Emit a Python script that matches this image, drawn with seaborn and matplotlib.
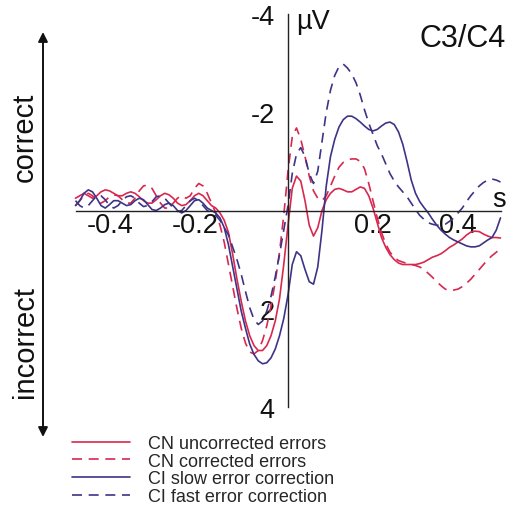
import numpy as np
import pandas as pd
import seaborn as sns
import matplotlib.pyplot as plt
from matplotlib.transforms import ScaledTranslation

# time axis (s), sampled every 10 ms
time = np.round(np.arange(-0.50, 0.501, 0.01), 2)

# amplitudes in microvolt (negative = up)
cn_uncorrected = [
    -0.25, -0.30, -0.35, -0.30, -0.25, -0.30, -0.38, -0.42, -0.40, -0.35,
    -0.30, -0.30, -0.35, -0.38, -0.35, -0.28, -0.20, -0.15, -0.15, -0.22,
    -0.30, -0.35, -0.32, -0.25, -0.15, -0.10, -0.12, -0.20, -0.30, -0.35,
    -0.30, -0.20, -0.10, -0.05, 0.05, 0.20, 0.45, 0.90, 1.40, 1.85,
    2.25, 2.55, 2.75, 2.85, 2.85, 2.75, 2.55, 2.25, 1.80, 1.10,
    0.30, -0.45, -0.70, -0.60, -0.20, 0.30, 0.52, 0.35, 0.00, -0.22,
    -0.35, -0.43, -0.45, -0.42, -0.38, -0.38, -0.43, -0.48, -0.45, -0.30,
    -0.05, 0.25, 0.55, 0.75, 0.90, 1.00, 1.07, 1.10, 1.10, 1.10,
    1.10, 1.08, 1.05, 1.00, 0.95, 0.92, 0.88, 0.82, 0.75, 0.70,
    0.64, 0.58, 0.50, 0.44, 0.42, 0.43, 0.48, 0.52, 0.55, 0.55, 0.56]
cn_corrected = [
    -0.10, -0.20, -0.30, -0.35, -0.30, -0.20, -0.15, -0.20, -0.28, -0.32,
    -0.30, -0.22, -0.15, -0.15, -0.25, -0.40, -0.50, -0.52, -0.45, -0.30,
    -0.15, -0.05, -0.05, -0.15, -0.25, -0.30, -0.25, -0.30, -0.45, -0.55,
    -0.50, -0.35, -0.15, 0.05, 0.30, 0.65, 1.10, 1.55, 2.00, 2.40,
    2.70, 2.88, 2.92, 2.85, 2.65, 2.35, 1.95, 1.45, 0.85, 0.10,
    -0.80, -1.50, -1.68, -1.45, -1.10, -0.70, -0.40, -0.25, -0.20, -0.30,
    -0.50, -0.70, -0.88, -0.98, -1.03, -1.05, -1.05, -1.00, -0.85, -0.55,
    -0.20, 0.15, 0.45, 0.68, 0.85, 0.95, 1.02, 1.05, 1.08, 1.10,
    1.12, 1.15, 1.20, 1.28, 1.36, 1.45, 1.53, 1.60, 1.63, 1.62,
    1.60, 1.55, 1.48, 1.40, 1.30, 1.20, 1.10, 1.00, 0.92, 0.85, 0.78]
ci_slow = [
    -0.10, -0.20, -0.35, -0.42, -0.38, -0.25, -0.10, -0.05, -0.12, -0.20,
    -0.20, -0.15, -0.10, -0.12, -0.20, -0.25, -0.22, -0.12, -0.02, 0.00,
    -0.05, -0.12, -0.15, -0.10, 0.00, 0.05, 0.00, -0.10, -0.20, -0.22,
    -0.15, -0.05, 0.00, 0.05, 0.15, 0.35, 0.70, 1.15, 1.60, 2.05,
    2.40, 2.72, 2.93, 3.06, 3.12, 3.10, 3.00, 2.82, 2.55, 2.20,
    1.72, 1.10, 0.84, 0.92, 1.20, 1.45, 1.50, 1.15, 0.40, -0.50,
    -1.10, -1.45, -1.70, -1.85, -1.92, -1.92, -1.87, -1.80, -1.72, -1.65,
    -1.62, -1.65, -1.72, -1.78, -1.80, -1.75, -1.60, -1.35, -1.00, -0.62,
    -0.35, -0.18, -0.06, 0.05, 0.18, 0.30, 0.40, 0.48, 0.55, 0.60,
    0.64, 0.68, 0.72, 0.74, 0.74, 0.72, 0.66, 0.60, 0.55, 0.40, 0.15]
ci_fast = [
    -0.20, -0.10, -0.05, -0.10, -0.20, -0.30, -0.30, -0.22, -0.10, -0.05,
    -0.10, -0.20, -0.28, -0.30, -0.25, -0.15, -0.08, -0.10, -0.18, -0.28,
    -0.30, -0.25, -0.15, -0.05, 0.02, 0.00, -0.10, -0.20, -0.25, -0.20,
    -0.10, 0.00, 0.05, 0.10, 0.20, 0.35, 0.50, 0.75, 1.00, 1.30,
    1.65, 1.98, 2.22, 2.32, 2.25, 2.05, 1.75, 1.35, 0.90, 0.40,
    -0.10, -0.75, -1.15, -1.28, -1.10, -0.75, -0.55, -0.80, -1.40, -2.00,
    -2.45, -2.75, -2.93, -2.98, -2.90, -2.78, -2.60, -2.35, -2.05, -1.78,
    -1.55, -1.32, -1.15, -0.95, -0.75, -0.60, -0.48, -0.38, -0.28, -0.15,
    -0.02, 0.10, 0.18, 0.25, 0.28, 0.30, 0.30, 0.28, 0.22, 0.15,
    0.05, -0.05, -0.18, -0.30, -0.40, -0.50, -0.57, -0.62, -0.64, -0.62, -0.58]

labels = ['CN uncorrected errors', 'CN corrected errors',
          'CI slow error correction', 'CI fast error correction']
series = [cn_uncorrected, cn_corrected, ci_slow, ci_fast]
red = '#d8284f'
blue = '#3d3486'
colors = [red, red, blue, blue]
styles = ['-', (0, (6, 4)), '-', (0, (6, 4))]

sns.set_style('white')
plt.rcParams['font.family'] = ['Liberation Sans', 'DejaVu Sans']
plt.rcParams['axes.unicode_minus'] = False

fig = plt.figure(figsize=(5.09, 5.06), dpi=100)
ax = fig.add_axes([75.5 / 509, 1 - 408 / 506, 425 / 509, 393 / 506])

for vals, lab, c, ls in zip(series, labels, colors, styles):
    df = pd.DataFrame({'time': time, 'amp': vals})
    sns.lineplot(data=df, x='time', y='amp', color=c, linestyle=ls,
                 linewidth=1.2, label=lab, ax=ax, clip_on=False)

ax.set_xlim(-0.5, 0.5)
ax.set_ylim(4, -4)
for side in ['top', 'right']:
    ax.spines[side].set_visible(False)
ax.spines['left'].set_position(('data', 0))
ax.spines['bottom'].set_position(('data', 0))
for side in ['left', 'bottom']:
    ax.spines[side].set_color('#222222')
    ax.spines[side].set_linewidth(1.0)
ax.set_xticks([-0.4, -0.2, 0.2, 0.4])
ax.set_xticklabels(['-0.4', '-0.2', '0.2', '0.4'])
ax.set_yticks([-4, -2, 2, 4])
ax.set_yticklabels(['-4', '-2', '2', '4'])
ax.tick_params(axis='x', length=0, pad=1, labelsize=19.5, colors='#111111')
ax.tick_params(axis='y', direction='inout', length=11, width=1.2,
               pad=4, labelsize=19.5, colors='#111111')
ax.set_xlabel('')
ax.set_ylabel('')

# negative labels hang their minus sign to the left
for t in ax.get_xticklabels()[:2]:
    t.set_transform(t.get_transform() + ScaledTranslation(-0.08, 0, fig.dpi_scale_trans))

ax.text(0.02, -3.85, 'µV', ha='left', va='center', fontsize=19.5, color='#111111')
ax.text(0.497, -0.1, 's', ha='center', va='baseline', fontsize=19.5, color='#111111')
ax.text(0.512, -3.35, 'C3/C4', ha='right', va='baseline', fontsize=22, color='#111111')

# correct / incorrect arrow on the left
ax.annotate('', xy=(43 / 509, 1 - 33 / 506), xytext=(43 / 509, 1 - 438 / 506),
            xycoords='figure fraction', textcoords='figure fraction',
            arrowprops=dict(arrowstyle='<|-|>', color='#111111', lw=1.4,
                            mutation_scale=14, shrinkA=0, shrinkB=0))
fig.text(25 / 509, 1 - 137 / 506, 'correct', rotation=90, ha='center', va='center',
         fontsize=21, color='#111111')
fig.text(25 / 509, 1 - 342 / 506, 'incorrect', rotation=90, ha='center', va='center',
         fontsize=21, color='#111111')

handles, labs = ax.get_legend_handles_labels()
ax.legend(handles, labs, loc='upper left', bbox_to_anchor=(72 / 509, 1 - 436 / 506),
          bbox_transform=fig.transFigure, frameon=False, fontsize=13,
          handlelength=3.2, handletextpad=1.0, labelspacing=0.04,
          borderpad=0, borderaxespad=0)

fig.savefig('out.png', dpi=100)
